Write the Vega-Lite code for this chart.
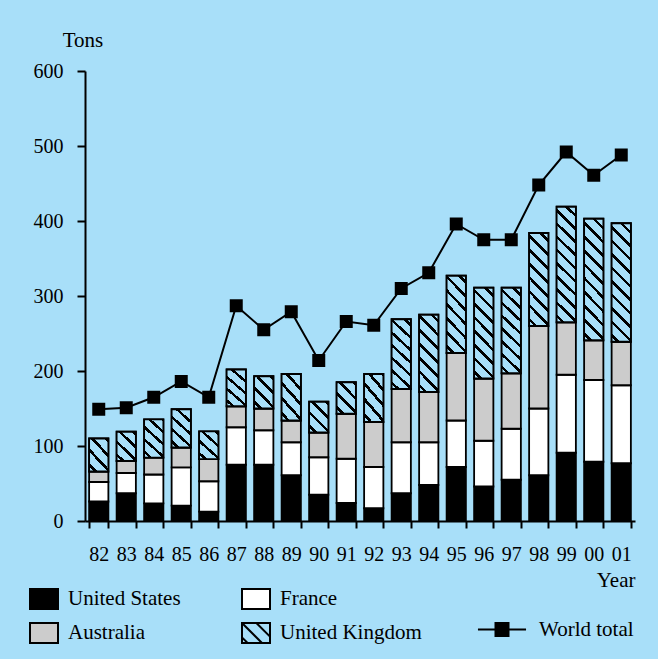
{
 "$schema": "https://vega.github.io/schema/vega-lite/v6.json",
 "width": 550,
 "height": 450,
 "autosize": {"type": "none"},
 "padding": {"left": 85, "top": 71, "right": 23, "bottom": 138},
 "background": "#a8dff9",
 "config": {
  "view": {"stroke": null},
  "font": "Liberation Serif",
  "axis": {"labelFont": "Liberation Serif", "labelFontSize": 20, "labelColor": "black", "titleFont": "Liberation Serif", "titleFontSize": 21, "titleFontWeight": "normal", "titleColor": "black", "domainColor": "black", "tickColor": "black", "domainWidth": 2, "tickWidth": 2, "grid": false},
  "legend": {"labelFont": "Liberation Serif", "labelFontSize": 21, "labelColor": "black", "padding": 0}
 },
 "datasets": {
  "bars": [
   {"year": "82", "country": "United States", "tons": 26}, {"year": "82", "country": "France", "tons": 26}, {"year": "82", "country": "Australia", "tons": 14}, {"year": "82", "country": "United Kingdom", "tons": 44},
   {"year": "83", "country": "United States", "tons": 37}, {"year": "83", "country": "France", "tons": 27}, {"year": "83", "country": "Australia", "tons": 16}, {"year": "83", "country": "United Kingdom", "tons": 39},
   {"year": "84", "country": "United States", "tons": 23.5}, {"year": "84", "country": "France", "tons": 38.5}, {"year": "84", "country": "Australia", "tons": 22.5}, {"year": "84", "country": "United Kingdom", "tons": 51},
   {"year": "85", "country": "United States", "tons": 20.5}, {"year": "85", "country": "France", "tons": 51}, {"year": "85", "country": "Australia", "tons": 26.5}, {"year": "85", "country": "United Kingdom", "tons": 51},
   {"year": "86", "country": "United States", "tons": 12.5}, {"year": "86", "country": "France", "tons": 40.5}, {"year": "86", "country": "Australia", "tons": 29.5}, {"year": "86", "country": "United Kingdom", "tons": 37},
   {"year": "87", "country": "United States", "tons": 75}, {"year": "87", "country": "France", "tons": 50}, {"year": "87", "country": "Australia", "tons": 28}, {"year": "87", "country": "United Kingdom", "tons": 49},
   {"year": "88", "country": "United States", "tons": 75}, {"year": "88", "country": "France", "tons": 46}, {"year": "88", "country": "Australia", "tons": 29}, {"year": "88", "country": "United Kingdom", "tons": 43},
   {"year": "89", "country": "United States", "tons": 61}, {"year": "89", "country": "France", "tons": 44}, {"year": "89", "country": "Australia", "tons": 29}, {"year": "89", "country": "United Kingdom", "tons": 62},
   {"year": "90", "country": "United States", "tons": 35}, {"year": "90", "country": "France", "tons": 50}, {"year": "90", "country": "Australia", "tons": 33}, {"year": "90", "country": "United Kingdom", "tons": 41},
   {"year": "91", "country": "United States", "tons": 24}, {"year": "91", "country": "France", "tons": 59}, {"year": "91", "country": "Australia", "tons": 60}, {"year": "91", "country": "United Kingdom", "tons": 42},
   {"year": "92", "country": "United States", "tons": 17}, {"year": "92", "country": "France", "tons": 55}, {"year": "92", "country": "Australia", "tons": 60}, {"year": "92", "country": "United Kingdom", "tons": 64},
   {"year": "93", "country": "United States", "tons": 37}, {"year": "93", "country": "France", "tons": 68}, {"year": "93", "country": "Australia", "tons": 71}, {"year": "93", "country": "United Kingdom", "tons": 93},
   {"year": "94", "country": "United States", "tons": 48}, {"year": "94", "country": "France", "tons": 57}, {"year": "94", "country": "Australia", "tons": 67}, {"year": "94", "country": "United Kingdom", "tons": 103},
   {"year": "95", "country": "United States", "tons": 72}, {"year": "95", "country": "France", "tons": 62}, {"year": "95", "country": "Australia", "tons": 90}, {"year": "95", "country": "United Kingdom", "tons": 103},
   {"year": "96", "country": "United States", "tons": 46}, {"year": "96", "country": "France", "tons": 61}, {"year": "96", "country": "Australia", "tons": 83}, {"year": "96", "country": "United Kingdom", "tons": 121},
   {"year": "97", "country": "United States", "tons": 55}, {"year": "97", "country": "France", "tons": 68}, {"year": "97", "country": "Australia", "tons": 74}, {"year": "97", "country": "United Kingdom", "tons": 114},
   {"year": "98", "country": "United States", "tons": 61}, {"year": "98", "country": "France", "tons": 89}, {"year": "98", "country": "Australia", "tons": 110}, {"year": "98", "country": "United Kingdom", "tons": 124},
   {"year": "99", "country": "United States", "tons": 91}, {"year": "99", "country": "France", "tons": 104}, {"year": "99", "country": "Australia", "tons": 70}, {"year": "99", "country": "United Kingdom", "tons": 154},
   {"year": "00", "country": "United States", "tons": 79}, {"year": "00", "country": "France", "tons": 109}, {"year": "00", "country": "Australia", "tons": 53}, {"year": "00", "country": "United Kingdom", "tons": 162},
   {"year": "01", "country": "United States", "tons": 77}, {"year": "01", "country": "France", "tons": 104}, {"year": "01", "country": "Australia", "tons": 58}, {"year": "01", "country": "United Kingdom", "tons": 158}
  ],
  "world": [
   {"year": "82", "total": 149}, {"year": "83", "total": 151}, {"year": "84", "total": 165}, {"year": "85", "total": 186},
   {"year": "86", "total": 165}, {"year": "87", "total": 287}, {"year": "88", "total": 255}, {"year": "89", "total": 279},
   {"year": "90", "total": 214}, {"year": "91", "total": 266}, {"year": "92", "total": 261}, {"year": "93", "total": 310},
   {"year": "94", "total": 331}, {"year": "95", "total": 396}, {"year": "96", "total": 375}, {"year": "97", "total": 375},
   {"year": "98", "total": 448}, {"year": "99", "total": 492}, {"year": "00", "total": 461}, {"year": "01", "total": 488}
  ]
 },
 "encoding": {
  "x": {
   "field": "year", "type": "nominal",
   "scale": {"domain": ["82","83","84","85","86","87","88","89","90","91","92","93","94","95","96","97","98","99","00","01"], "paddingInner": 0.3, "paddingOuter": 0.15},
   "axis": {"title": "Year", "tickBand": "extent", "tickSize": 7, "labelPadding": 16, "labelAngle": 0, "titleX": 550, "titleY": 65, "titleAlign": "right", "titleBaseline": "alphabetic", "titleAnchor": null}
  }
 },
 "layer": [
  {
   "data": {"name": "bars"},
   "transform": [
    {"calculate": "indexof(['United States','France','Australia','United Kingdom'], datum.country)", "as": "rank"},
    {"stack": "tons", "groupby": ["year"], "sort": [{"field": "rank", "order": "ascending"}], "as": ["y0", "y1"]}
   ],
   "mark": {"type": "bar", "stroke": "black", "strokeWidth": 1.8},
   "encoding": {
    "y": {"field": "y1", "type": "quantitative", "title": "Tons", "scale": {"domain": [0, 600], "nice": false},
     "axis": {"title": "Tons", "values": [0, 100, 200, 300, 400, 500, 600], "tickSize": 8, "labelPadding": 14, "titleAngle": 0, "titleX": -2.5, "titleY": -25, "titleAlign": "center", "titleBaseline": "alphabetic", "titleAnchor": null}},
    "y2": {"field": "y0"},
    "color": {
     "field": "country", "type": "nominal",
     "scale": {"domain": ["United States", "Australia", "France", "United Kingdom"], "range": ["#000000", "#cccccc", "#ffffff", "#a8dff9"]},
     "legend": {
      "title": null, "orient": "none", "legendX": -52, "legendY": 517, "columns": 2, "columnPadding": 57, "rowPadding": 6,
      "symbolType": "M-1.4,-1H1.4V1H-1.4Z", "symbolSize": 400, "labelOffset": 13, "symbolOpacity": 1,
      "encoding": {"symbols": {
       "shape": {"condition": {"test": "datum.value === 'United Kingdom'", "value": "M-1.4,-1H1.4V1H-1.4Z M-1.4,-1L0.6,1 M0.04,-1L1.4,0.36 M-1.4,0.44L-0.84,1"}, "value": "M-1.4,-1H1.4V1H-1.4Z"},
       "stroke": {"value": "black"}, "strokeWidth": {"value": 2}, "opacity": {"value": 1}
      }}
     }
    }
   }
  },
  {
   "data": {"name": "bars"},
   "transform": [
    {"calculate": "indexof(['United States','France','Australia','United Kingdom'], datum.country)", "as": "rank"},
    {"stack": "tons", "groupby": ["year"], "sort": [{"field": "rank", "order": "ascending"}], "as": ["y0", "y1"]},
    {"filter": "datum.country === 'United Kingdom'"}
   ],
   "mark": {"type": "bar", "stroke": "black", "strokeWidth": 1.8},
   "encoding": {
    "y": {"field": "y1", "type": "quantitative", "title": "Tons"},
    "y2": {"field": "y0"},
    "fill": {
     "condition": [
      {"test": "datum.tons < 47", "value": {"gradient": "linear", "x1": 0, "y1": 1, "x2": 0.7313, "y2": -0.1682, "stops": [
       {"offset": 0, "color": "#a8dff9"}, {"offset": 0.0986, "color": "#a8dff9"}, {"offset": 0.0986, "color": "#000000"}, {"offset": 0.1716, "color": "#000000"}, {"offset": 0.1716, "color": "#a8dff9"},
       {"offset": 0.3689, "color": "#a8dff9"}, {"offset": 0.3689, "color": "#000000"}, {"offset": 0.4419, "color": "#000000"}, {"offset": 0.4419, "color": "#a8dff9"},
       {"offset": 0.6392, "color": "#a8dff9"}, {"offset": 0.6392, "color": "#000000"}, {"offset": 0.7122, "color": "#000000"}, {"offset": 0.7122, "color": "#a8dff9"},
       {"offset": 0.9094, "color": "#a8dff9"}, {"offset": 0.9094, "color": "#000000"}, {"offset": 0.9824, "color": "#000000"}, {"offset": 0.9824, "color": "#a8dff9"}, {"offset": 1, "color": "#a8dff9"}]}},
      {"test": "datum.tons < 75", "value": {"gradient": "linear", "x1": 0, "y1": 1, "x2": 0.5524, "y2": -0.2051, "stops": [
       {"offset": 0, "color": "#a8dff9"}, {"offset": 0.0804, "color": "#a8dff9"}, {"offset": 0.0804, "color": "#000000"}, {"offset": 0.14, "color": "#000000"}, {"offset": 0.14, "color": "#a8dff9"},
       {"offset": 0.3008, "color": "#a8dff9"}, {"offset": 0.3008, "color": "#000000"}, {"offset": 0.3604, "color": "#000000"}, {"offset": 0.3604, "color": "#a8dff9"},
       {"offset": 0.5212, "color": "#a8dff9"}, {"offset": 0.5212, "color": "#000000"}, {"offset": 0.5808, "color": "#000000"}, {"offset": 0.5808, "color": "#a8dff9"},
       {"offset": 0.7416, "color": "#a8dff9"}, {"offset": 0.7416, "color": "#000000"}, {"offset": 0.8012, "color": "#000000"}, {"offset": 0.8012, "color": "#a8dff9"},
       {"offset": 0.962, "color": "#a8dff9"}, {"offset": 0.962, "color": "#000000"}, {"offset": 1, "color": "#000000"}]}},
      {"test": "datum.tons < 110", "value": {"gradient": "linear", "x1": 0, "y1": 1, "x2": 0.3026, "y2": -0.179, "stops": [
       {"offset": 0, "color": "#a8dff9"}, {"offset": 0.0523, "color": "#a8dff9"}, {"offset": 0.0523, "color": "#000000"}, {"offset": 0.091, "color": "#000000"}, {"offset": 0.091, "color": "#a8dff9"},
       {"offset": 0.1956, "color": "#a8dff9"}, {"offset": 0.1956, "color": "#000000"}, {"offset": 0.2342, "color": "#000000"}, {"offset": 0.2342, "color": "#a8dff9"},
       {"offset": 0.3389, "color": "#a8dff9"}, {"offset": 0.3389, "color": "#000000"}, {"offset": 0.3775, "color": "#000000"}, {"offset": 0.3775, "color": "#a8dff9"},
       {"offset": 0.4822, "color": "#a8dff9"}, {"offset": 0.4822, "color": "#000000"}, {"offset": 0.5208, "color": "#000000"}, {"offset": 0.5208, "color": "#a8dff9"},
       {"offset": 0.6254, "color": "#a8dff9"}, {"offset": 0.6254, "color": "#000000"}, {"offset": 0.664, "color": "#000000"}, {"offset": 0.664, "color": "#a8dff9"},
       {"offset": 0.7687, "color": "#a8dff9"}, {"offset": 0.7687, "color": "#000000"}, {"offset": 0.8073, "color": "#000000"}, {"offset": 0.8073, "color": "#a8dff9"},
       {"offset": 0.912, "color": "#a8dff9"}, {"offset": 0.912, "color": "#000000"}, {"offset": 0.9506, "color": "#000000"}, {"offset": 0.9506, "color": "#a8dff9"}, {"offset": 1, "color": "#a8dff9"}]}},
      {"test": "datum.tons < 140", "value": {"gradient": "linear", "x1": 0, "y1": 1, "x2": 0.2483, "y2": -0.1608, "stops": [
       {"offset": 0, "color": "#a8dff9"}, {"offset": 0.0451, "color": "#a8dff9"}, {"offset": 0.0451, "color": "#000000"}, {"offset": 0.0785, "color": "#000000"}, {"offset": 0.0785, "color": "#a8dff9"},
       {"offset": 0.1687, "color": "#a8dff9"}, {"offset": 0.1687, "color": "#000000"}, {"offset": 0.2021, "color": "#000000"}, {"offset": 0.2021, "color": "#a8dff9"},
       {"offset": 0.2923, "color": "#a8dff9"}, {"offset": 0.2923, "color": "#000000"}, {"offset": 0.3257, "color": "#000000"}, {"offset": 0.3257, "color": "#a8dff9"},
       {"offset": 0.4159, "color": "#a8dff9"}, {"offset": 0.4159, "color": "#000000"}, {"offset": 0.4493, "color": "#000000"}, {"offset": 0.4493, "color": "#a8dff9"},
       {"offset": 0.5395, "color": "#a8dff9"}, {"offset": 0.5395, "color": "#000000"}, {"offset": 0.5729, "color": "#000000"}, {"offset": 0.5729, "color": "#a8dff9"},
       {"offset": 0.6631, "color": "#a8dff9"}, {"offset": 0.6631, "color": "#000000"}, {"offset": 0.6965, "color": "#000000"}, {"offset": 0.6965, "color": "#a8dff9"},
       {"offset": 0.7867, "color": "#a8dff9"}, {"offset": 0.7867, "color": "#000000"}, {"offset": 0.8201, "color": "#000000"}, {"offset": 0.8201, "color": "#a8dff9"},
       {"offset": 0.9104, "color": "#a8dff9"}, {"offset": 0.9104, "color": "#000000"}, {"offset": 0.9438, "color": "#000000"}, {"offset": 0.9438, "color": "#a8dff9"}, {"offset": 1, "color": "#a8dff9"}]}}
     ],
     "value": {"gradient": "linear", "x1": 0, "y1": 1, "x2": 0.184, "y2": -0.1325, "stops": [
      {"offset": 0, "color": "#a8dff9"}, {"offset": 0.0358, "color": "#a8dff9"}, {"offset": 0.0358, "color": "#000000"}, {"offset": 0.0622, "color": "#000000"}, {"offset": 0.0622, "color": "#a8dff9"},
      {"offset": 0.1339, "color": "#a8dff9"}, {"offset": 0.1339, "color": "#000000"}, {"offset": 0.1603, "color": "#000000"}, {"offset": 0.1603, "color": "#a8dff9"},
      {"offset": 0.2319, "color": "#a8dff9"}, {"offset": 0.2319, "color": "#000000"}, {"offset": 0.2583, "color": "#000000"}, {"offset": 0.2583, "color": "#a8dff9"},
      {"offset": 0.3299, "color": "#a8dff9"}, {"offset": 0.3299, "color": "#000000"}, {"offset": 0.3563, "color": "#000000"}, {"offset": 0.3563, "color": "#a8dff9"},
      {"offset": 0.428, "color": "#a8dff9"}, {"offset": 0.428, "color": "#000000"}, {"offset": 0.4544, "color": "#000000"}, {"offset": 0.4544, "color": "#a8dff9"},
      {"offset": 0.526, "color": "#a8dff9"}, {"offset": 0.526, "color": "#000000"}, {"offset": 0.5524, "color": "#000000"}, {"offset": 0.5524, "color": "#a8dff9"},
      {"offset": 0.6241, "color": "#a8dff9"}, {"offset": 0.6241, "color": "#000000"}, {"offset": 0.6505, "color": "#000000"}, {"offset": 0.6505, "color": "#a8dff9"},
      {"offset": 0.7221, "color": "#a8dff9"}, {"offset": 0.7221, "color": "#000000"}, {"offset": 0.7485, "color": "#000000"}, {"offset": 0.7485, "color": "#a8dff9"},
      {"offset": 0.8201, "color": "#a8dff9"}, {"offset": 0.8201, "color": "#000000"}, {"offset": 0.8465, "color": "#000000"}, {"offset": 0.8465, "color": "#a8dff9"},
      {"offset": 0.9182, "color": "#a8dff9"}, {"offset": 0.9182, "color": "#000000"}, {"offset": 0.9446, "color": "#000000"}, {"offset": 0.9446, "color": "#a8dff9"}, {"offset": 1, "color": "#a8dff9"}]}
    }
   }
  },
  {
   "data": {"name": "world"},
   "mark": {"type": "line", "color": "black", "strokeWidth": 2},
   "encoding": {"y": {"field": "total", "type": "quantitative", "title": "Tons"}}
  },
  {
   "data": {"name": "world"},
   "mark": {"type": "point", "shape": "square", "filled": true, "color": "black", "size": 169, "opacity": 1},
   "encoding": {"y": {"field": "total", "type": "quantitative", "title": "Tons"}}
  },
  {
   "data": {"name": "world"},
   "mark": {"type": "point", "filled": true, "opacity": 0},
   "encoding": {
    "y": {"field": "total", "type": "quantitative", "title": "Tons"},
    "shape": {"datum": "World total", "type": "nominal", "scale": {"range": ["M-3.7,0H3.7M-1,-1H1V1H-1Z"]},
     "legend": {"title": null, "orient": "none", "legendX": 406.5, "legendY": 548, "symbolSize": 169, "labelOffset": 26.5, "symbolOpacity": 1,
      "encoding": {"symbols": {"fill": {"value": "black"}, "stroke": {"value": "black"}, "strokeWidth": {"value": 2}, "opacity": {"value": 1}}}}}
   }
  }
 ]
}
